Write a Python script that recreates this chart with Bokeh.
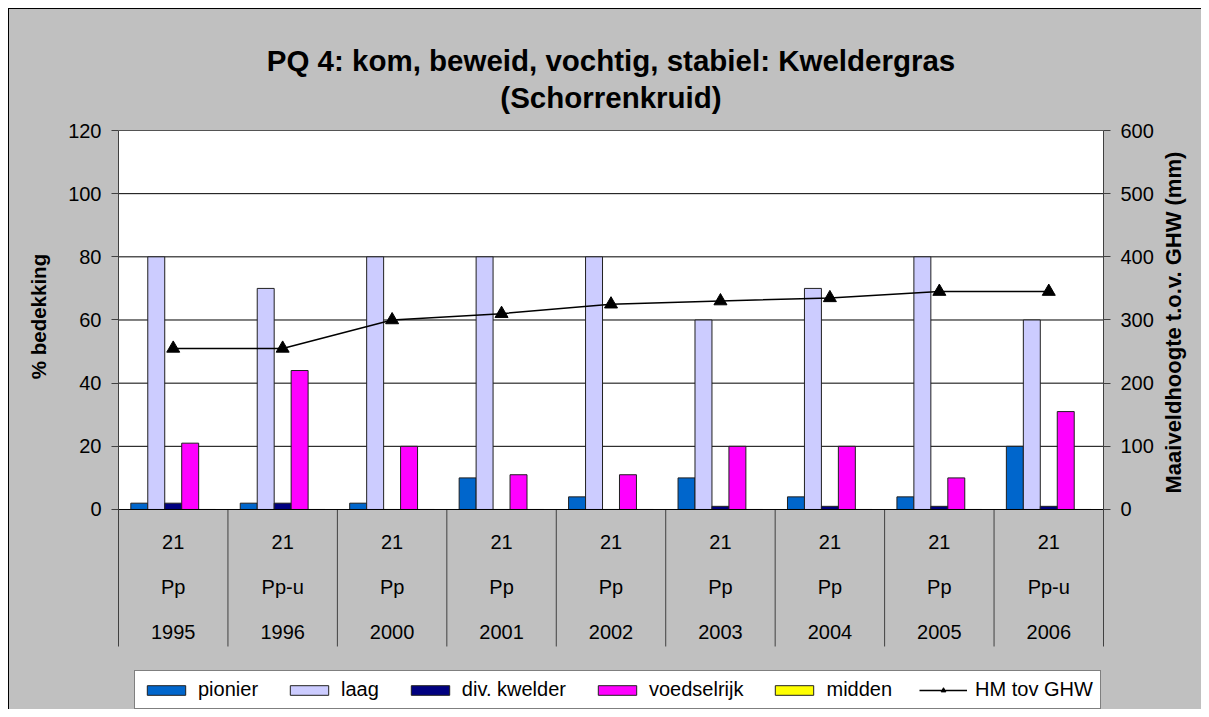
import math
from bokeh.plotting import figure
from bokeh.models import (Range1d, LinearAxis, FixedTicker, Title, Legend, LegendItem)
from bokeh.core.properties import value
from bokeh.embed import file_html
from bokeh.resources import INLINE

# ---- data ----
years = ["1995", "1996", "2000", "2001", "2002", "2003", "2004", "2005", "2006"]
codes = ["Pp", "Pp-u", "Pp", "Pp", "Pp", "Pp", "Pp", "Pp", "Pp-u"]
plots = ["21", "21", "21", "21", "21", "21", "21", "21", "21"]
pionier = [2, 2, 2, 10, 4, 10, 4, 4, 20]
laag = [80, 70, 80, 80, 80, 60, 70, 80, 60]
div_kwelder = [2, 2, 0, 0, 0, 1, 1, 1, 1]
voedselrijk = [21, 44, 20, 11, 11, 20, 20, 10, 31]
midden = [0, 0, 0, 0, 0, 0, 0, 0, 0]
hm_ghw = [255, 255, 300, 310, 325, 330, 335, 345, 345]
left_ticks = [0, 20, 40, 60, 80, 100, 120]
right_ticks = [0, 100, 200, 300, 400, 500, 600]

series = [("pionier", pionier, "#0066CC"),
          ("laag", laag, "#CCCCFF"),
          ("div. kwelder", div_kwelder, "#000080"),
          ("voedselrijk", voedselrijk, "#FF00FF"),
          ("midden", midden, "#FFFF00")]

FONT = "Liberation Sans"
GRAY = "#C0C0C0"
n = len(years)
ymax = 120
ytab = -43.38          # bottom of the category label table
ymin = -63.33          # bottom of the canvas (legend lives here)
rmax = 600
rscale = rmax / ymax

p = figure(width=1201, height=709, output_backend="svg", toolbar_location=None,
           x_range=Range1d(0, n), y_range=Range1d(ymin, ymax),
           x_axis_location=None, y_axis_location=None,
           min_border_left=118, min_border_right=96, min_border_top=130,
           min_border_bottom=0, title=None)
p.background_fill_color = GRAY
p.border_fill_alpha = 0
p.outline_line_color = None
p.xgrid.visible = False
p.ygrid.visible = False
p.styles = {
    "background-color": GRAY,
    "background-image": ("linear-gradient(#ffffff,#ffffff), linear-gradient(#ffffff,#ffffff), "
                         "linear-gradient(#000000,#000000), linear-gradient(#000000,#000000)"),
    "background-size": "8px 100%, 100% 8px, 1px 100%, 100% 1px",
    "background-position": "0 0, 0 0, 8px 8px, 8px 8px",
    "background-repeat": "no-repeat",
}

xs = [i + 0.5 for i in range(n)]

# white plot area
p.quad(left=[0], right=[n], bottom=[0], top=[ymax], fill_color="white", line_color=None)
# gridlines
p.segment(x0=[0] * 6, x1=[n] * 6, y0=left_ticks[1:], y1=left_ticks[1:],
          line_color="black", line_width=1)
# category separators
p.segment(x0=list(range(1, n)), x1=list(range(1, n)), y0=[ytab] * (n - 1), y1=[0] * (n - 1),
          line_color="#404040", line_width=1)

# bars
bw = 0.155
legend_items = []
for k, (name, vals, col) in enumerate(series):
    off = (k - 2) * bw
    r = p.vbar(x=[x + off for x in xs], top=vals, bottom=0, width=bw,
               fill_color=col, line_color="#202020", line_width=1)
    legend_items.append(LegendItem(label=name, renderers=[r]))

# x axis line
p.segment(x0=[0], x1=[n], y0=[0], y1=[0], line_color="black", line_width=1)

# secondary axis
p.extra_y_ranges = {"hm": Range1d(ymin * rscale, rmax)}
lr = p.line(x=xs, y=hm_ghw, y_range_name="hm", line_color="black", line_width=1.5)
sr = p.scatter(x=xs, y=hm_ghw, y_range_name="hm", marker="triangle", size=13,
               fill_color="black", line_color="black")
legend_items.append(LegendItem(label="HM tov GHW", renderers=[lr, sr]))

# category label table
for row, yy in ((plots, -10.45), (codes, -24.7), (years, -38.9)):
    p.text(x=xs, y=[yy] * n, text=row, text_font=value(FONT), text_font_size="20px",
           text_align="center", text_baseline="middle", text_color="black")

def style_axis(ax):
    ax.major_tick_out = 7
    ax.major_tick_in = 0
    ax.minor_tick_out = 0
    ax.minor_tick_in = 0
    ax.major_label_standoff = 10
    ax.axis_line_color = "#404040"
    ax.major_tick_line_color = "#404040"
    ax.major_label_text_font = FONT
    ax.major_label_text_font_size = "20px"
    ax.major_label_text_color = "black"

def title_axis(ax, size, standoff):
    ax.axis_line_color = None
    ax.major_tick_line_color = None
    ax.minor_tick_line_color = None
    ax.major_tick_out = 0
    ax.major_tick_in = 0
    ax.minor_tick_out = 0
    ax.minor_tick_in = 0
    ax.major_label_standoff = standoff
    ax.major_label_text_font = FONT
    ax.major_label_text_font_size = size
    ax.major_label_text_font_style = "bold"
    ax.major_label_text_color = "black"

left = LinearAxis(ticker=FixedTicker(ticks=left_ticks), bounds=(ytab, ymax))
style_axis(left)
p.add_layout(left, "left")

# left axis title, centred on the white plot area
lt_pos = 61.1
left_title = LinearAxis(ticker=FixedTicker(ticks=[lt_pos]),
                        major_label_overrides={lt_pos: "% bedekking"},
                        major_label_orientation="parallel")
title_axis(left_title, "20.5px", 15)
p.add_layout(left_title, "left")

right = LinearAxis(y_range_name="hm", ticker=FixedTicker(ticks=right_ticks),
                   bounds=(ytab * rscale, rmax))
style_axis(right)
p.add_layout(right, "right")

# right axis title, reading bottom-to-top, starting just above the zero line
rt_pos = 25.3
right_title = LinearAxis(y_range_name="hm", ticker=FixedTicker(ticks=[rt_pos]),
                         major_label_overrides={rt_pos: "Maaiveldhoogte t.o.v. GHW (mm)"},
                         major_label_orientation=math.pi / 2)
title_axis(right_title, "22px", 17)
p.add_layout(right_title, "right")

# top border of the plot area
p.segment(x0=[0], x1=[n], y0=[ymax], y1=[ymax], line_color="#404040", line_width=1)

# chart title (two centred lines, with a small spacer above the plot area)
spacer = Title(text="\u00a0", text_font_size="1px", standoff=12)
t2 = Title(text="(Schorrenkruid)", align="center", text_font=FONT, text_font_size="29.5px",
           text_font_style="bold", text_color="black", standoff=4)
t1 = Title(text="PQ 4: kom, beweid, vochtig, stabiel: Kweldergras", align="center",
           text_font=FONT, text_font_size="29.5px", text_font_style="bold",
           text_color="black", standoff=0)
p.add_layout(spacer, "above")
p.add_layout(t2, "above")
p.add_layout(t1, "above")

legend = Legend(items=legend_items, orientation="horizontal", location=(16, 0),
                label_text_font=FONT, label_text_font_size="20px", label_text_color="black",
                glyph_width=48, glyph_height=12, label_height=22, label_standoff=8,
                spacing=27, padding=7, margin=0, border_line_color="black",
                border_line_width=1, background_fill_color="white", background_fill_alpha=1)
p.add_layout(legend, "center")

open("out.html", "w").write(file_html(p, INLINE))
